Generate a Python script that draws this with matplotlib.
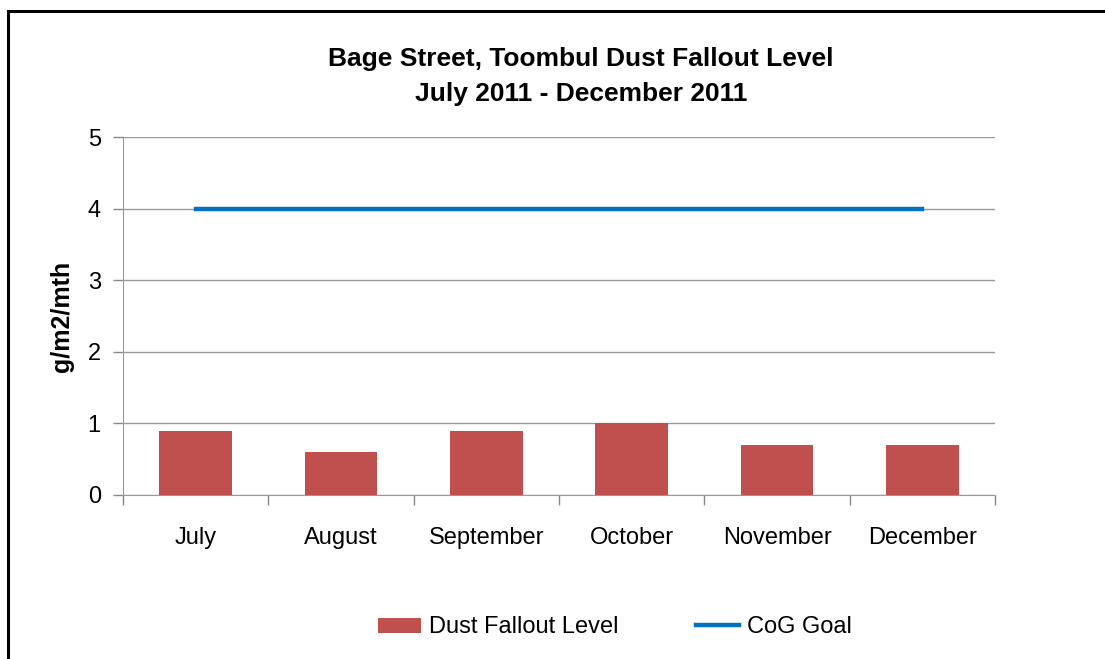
import matplotlib.pyplot as plt
import numpy as np
from matplotlib.lines import Line2D

plt.rcParams['font.family'] = ['Liberation Sans', 'DejaVu Sans']

months = ['July', 'August', 'September', 'October', 'November', 'December']
dust_fallout = [0.9, 0.6, 0.9, 1.0, 0.7, 0.7]
cog_goal = [4, 4, 4, 4, 4, 4]
y_ticks = [0, 1, 2, 3, 4, 5]

fig = plt.figure(figsize=(11.05, 6.59), dpi=100)
ax = fig.add_axes([0.1113, 0.2489, 0.7892, 0.5432])

x = np.arange(len(months))
bars = ax.bar(x, dust_fallout, width=0.5, color='#C0504D', zorder=3, label='Dust Fallout Level')
line, = ax.plot(x, cog_goal, color='#0070C0', linewidth=3.2, zorder=4, label='CoG Goal')

ax.set_xlim(-0.5, len(months) - 0.5)
ax.set_ylim(0, 5)
ax.set_yticks(y_ticks)
ax.set_xticks(x)
ax.set_xticklabels(months, fontsize=17)
ax.set_xticks(np.arange(-0.5, len(months)), minor=True)
ax.tick_params(axis='x', which='major', length=0, pad=23)
ax.tick_params(axis='x', which='minor', length=7, color='#888888', width=1)
ax.tick_params(axis='y', labelsize=17, length=7, color='#888888', width=1, pad=9)
ax.yaxis.grid(True, color='#999999', linewidth=1)
ax.set_axisbelow(True)
for s in ['top', 'right']:
    ax.spines[s].set_visible(False)
for s in ['left', 'bottom']:
    ax.spines[s].set_color('#999999')

ax.set_ylabel('g/m2/mth', fontsize=18, fontweight='bold', labelpad=10)
fig.text(0.526, 0.884, 'Bage Street, Toombul Dust Fallout Level\nJuly 2011 - December 2011',
         ha='center', va='center', fontsize=19, fontweight='bold', linespacing=1.55)

fig.legend([bars, line], ['Dust Fallout Level', 'CoG Goal'], loc='center',
           bbox_to_anchor=(0.5566, 0.048), ncol=2, frameon=False, fontsize=17,
           handlelength=1.8, handletextpad=0.35, columnspacing=3.3, handleheight=0.6)

# chart border (left and top edge)
fig.add_artist(Line2D([0.0072, 0.0072], [0, 0.9833], color='black', linewidth=2.2, transform=fig.transFigure))
fig.add_artist(Line2D([0.0072, 1], [0.9833, 0.9833], color='black', linewidth=2.2, transform=fig.transFigure))

fig.savefig('out.png', dpi=100)
